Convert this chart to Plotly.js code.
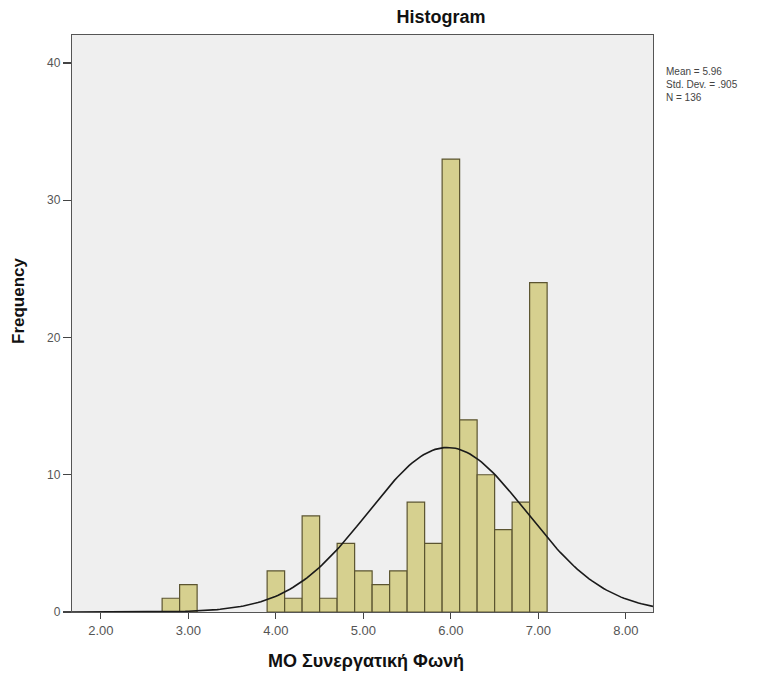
<!DOCTYPE html>
<html>
<head>
<meta charset="utf-8">
<script src="https://cdn.plot.ly/plotly-3.0.1.min.js"></script>
<style>html,body{margin:0;padding:0;background:#fff;}#chart{width:774px;height:679px;}</style>
</head>
<body>
<div id="chart"></div>
<script>
// Histogram bins (centers) and frequencies
const binCenters = [2.8, 3.0, 4.0, 4.2, 4.4, 4.6, 4.8, 5.0, 5.2, 5.4, 5.6, 5.8, 6.0, 6.2, 6.4, 6.6, 6.8, 7.0];
const frequencies = [1, 2, 3, 1, 7, 1, 5, 3, 2, 3, 8, 5, 33, 14, 10, 6, 8, 24];
const binWidth = 0.2;

// Summary statistics shown beside the chart
const statMean = 5.96;
const statSD = 0.905;
const statN = 136;
const statLines = ["Mean = 5.96", "Std. Dev. = .905", "N = 136"];

const xTickVals = [2, 3, 4, 5, 6, 7, 8];
const xTickText = ["2.00", "3.00", "4.00", "5.00", "6.00", "7.00", "8.00"];
const yTickVals = [0, 10, 20, 30, 40];

const chartTitle = 'Histogram';
const xTitle = 'MO Συνεργατική Φωνή';
const yTitle = 'Frequency';

const xRange = [1.67, 8.31];
const yRange = [0, 42.04];

// Normal curve defined by the displayed mean / SD / N
const curveX = [];
const curveY = [];
const steps = 200;
for (let i = 0; i <= steps; i++) {
  const x = xRange[0] + (xRange[1] - xRange[0]) * i / steps;
  const z = (x - statMean) / statSD;
  curveX.push(x);
  curveY.push(statN * binWidth / (statSD * Math.sqrt(2 * Math.PI)) * Math.exp(-0.5 * z * z));
}

const traces = [
  {
    type: 'bar',
    x: binCenters,
    y: frequencies,
    width: binWidth,
    marker: {color: '#d6d08f', line: {color: '#5b5430', width: 1.2}},
    hoverinfo: 'x+y'
  },
  {
    type: 'scatter',
    mode: 'lines',
    x: curveX,
    y: curveY,
    line: {color: '#1a1a1a', width: 1.6},
    hoverinfo: 'skip'
  }
];

const FONT = 'Liberation Sans, Arial, sans-serif';
const L = 72, R = 653, T = 35, B = 612;
const pw = R - L, ph = B - T;

const layout = {
  width: 774,
  height: 679,
  margin: {l: L, r: 774 - R, t: T, b: 679 - B},
  paper_bgcolor: '#ffffff',
  plot_bgcolor: '#efefef',
  showlegend: false,
  font: {family: FONT, color: '#444'},
  title: {
    text: '<b>' + chartTitle + '</b>',
    font: {size: 18, color: '#111', family: FONT},
    x: 441 / 774, xref: 'container', xanchor: 'center',
    y: 1 - 17 / 679, yref: 'container', yanchor: 'middle'
  },
  xaxis: {
    range: xRange,
    tickvals: xTickVals,
    ticktext: xTickText,
    ticks: 'outside',
    ticklen: 6,
    tickwidth: 1.2,
    tickcolor: '#444',
    showline: true,
    linecolor: '#555',
    linewidth: 1.2,
    mirror: true,
    showgrid: false,
    zeroline: false,
    tickfont: {size: 13, color: '#555'}
  },
  yaxis: {
    range: yRange,
    tickvals: yTickVals,
    ticks: 'outside',
    ticklen: 8,
    tickwidth: 1.2,
    tickcolor: '#444',
    showline: true,
    linecolor: '#555',
    linewidth: 1.2,
    mirror: true,
    showgrid: false,
    zeroline: false,
    tickfont: {size: 12, color: '#555'}
  },
  annotations: [
    {
      xref: 'paper', yref: 'paper',
      x: (664 - L) / pw, y: (B - 64) / ph,
      xanchor: 'left', yanchor: 'top', align: 'left',
      showarrow: false,
      text: statLines.join('<br>'),
      font: {size: 10, color: '#444', family: FONT}
    },
    {
      xref: 'paper', yref: 'paper',
      x: (366 - L) / pw, y: (B - 661) / ph,
      xanchor: 'center', yanchor: 'middle',
      showarrow: false,
      text: '<b>' + xTitle + '</b>',
      font: {size: 18, color: '#111', family: FONT}
    },
    {
      xref: 'paper', yref: 'paper',
      x: (18 - L) / pw, y: (B - 301) / ph,
      xanchor: 'center', yanchor: 'middle',
      textangle: -90,
      showarrow: false,
      text: '<b>' + yTitle + '</b>',
      font: {size: 17, color: '#111', family: FONT}
    }
  ]
};

Plotly.newPlot('chart', traces, layout, {displayModeBar: false, staticPlot: true});
</script>
</body>
</html>
